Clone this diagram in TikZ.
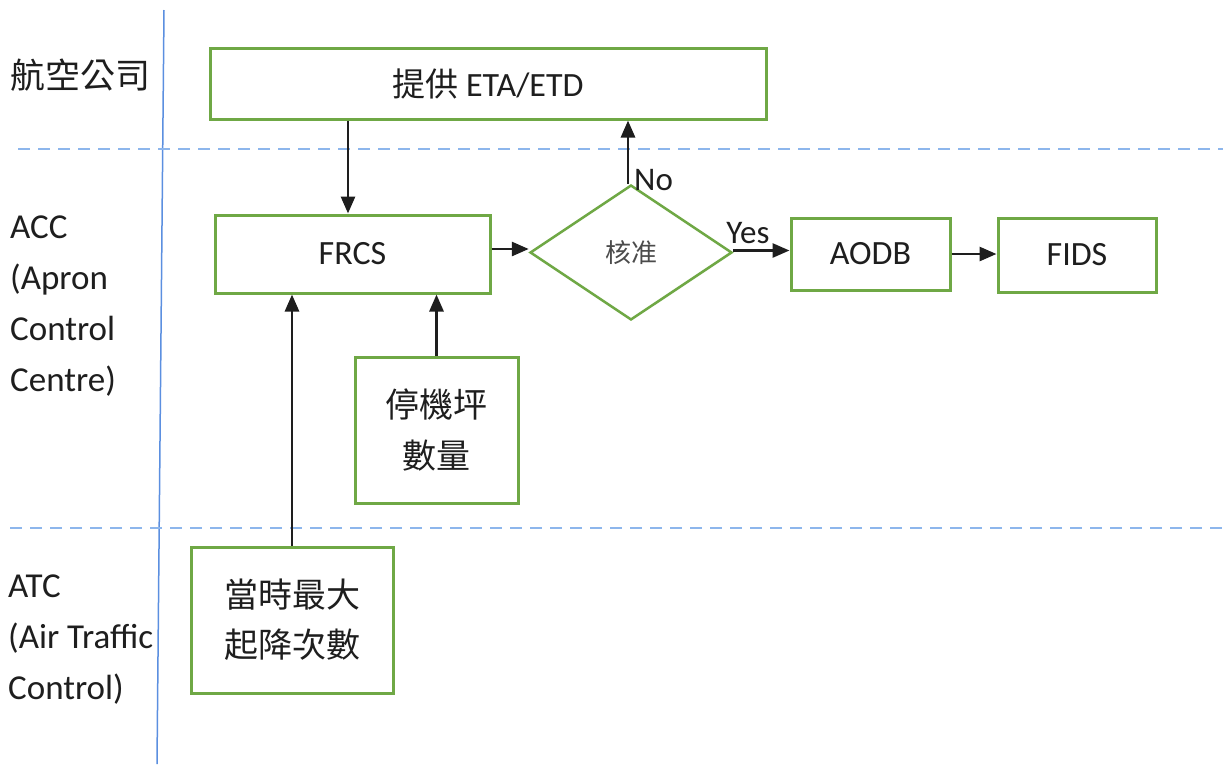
\documentclass[tikz,border=0pt]{standalone}
\usepackage{fontspec}
\setmainfont{Carlito}
\newfontfamily\cjk{Noto Sans CJK TC}
\usetikzlibrary{arrows.meta,shapes.geometric}
\definecolor{boxgreen}{HTML}{6FA845}
\definecolor{laneblue}{HTML}{5B8FE0}
\definecolor{dashblue}{HTML}{8DB6EC}
\definecolor{ink}{HTML}{1E1E1E}
\tikzset{
  big/.style={font=\fontsize{34}{40}\selectfont},
  box/.style={draw=boxgreen,line width=3pt,inner sep=0pt,text=ink,big,align=center},
  arr/.style={draw=ink,line width=2.8pt,-{Triangle[length=17pt,width=14pt]}},
  lane/.style={draw=dashblue,line width=1.5pt,dash pattern=on 12pt off 8pt},
  lbl/.style={text=ink,inner sep=0pt,align=left,anchor=west,font=\fontsize{35}{51}\selectfont},
}
\begin{document}
\begin{tikzpicture}[x=1pt,y=-1pt]
\useasboundingbox[fill=white] (0,0) rectangle (1223,764);
% lanes
\draw[draw=laneblue,line width=1.5pt] (164,10) -- (157,764);
\draw[lane] (18,149) -- (1223,149);
\draw[lane] (10,528) -- (1223,528);
% lane labels
\node[lbl,font=\fontsize{35}{40}\selectfont] (l1) at (10,75) {\cjk 航空公司};
\node[lbl] (l2) at (10,306) {ACC\\(Apron\\Control\\Centre)};
\node[lbl] (l3) at (8,640) {ATC\\(Air Traffic\\Control)};
% boxes
\node[box,minimum width=556pt,minimum height=71pt] (eta) at (488,83.5) {{\cjk\fontsize{33}{40}\selectfont 提供} ETA/ETD};
\node[box,minimum width=275pt,minimum height=78pt] (frcs) at (352.5,254) {FRCS};
\node[draw=boxgreen,line width=2.5pt,shape=diamond,aspect=1.5,minimum width=202pt,minimum height=135pt,inner sep=0pt,text=ink!80,font=\cjk\fontsize{26}{30}\selectfont] (chk) at (631,252.5) {核准};
\node[box,minimum width=159pt,minimum height=72pt] (aodb) at (870.5,254) {AODB};
\node[box,minimum width=158pt,minimum height=74pt] (fids) at (1077,255) {FIDS};
\node[box,minimum width=163pt,minimum height=146pt,font=\cjk\fontsize{34}{51}\selectfont] (park) at (436.5,430) {停機坪\\數量};
\node[box,minimum width=202pt,minimum height=146pt,font=\cjk\fontsize{34}{50}\selectfont] (atc) at (292,620) {當時最大\\起降次數};
% connectors
\draw[arr] ([xshift=-4.5pt]frcs.north |- eta.south) -- ([xshift=-4.5pt]frcs.north);
\draw[arr] ([yshift=5pt]frcs.east) -- ([yshift=5pt]frcs.east -| chk.west);
\draw[arr] ([xshift=-3pt]chk.north) -- ([xshift=-3pt]chk.north |- eta.south);
\draw[arr] ([yshift=2pt]chk.east) -- ([yshift=2pt]chk.east -| aodb.west);
\draw[arr] (aodb.east) -- (aodb.east -| fids.west);
\draw[arr] (park.north) -- (park.north |- frcs.south);
\draw[arr] (atc.north) -- (atc.north |- frcs.south);
% labels
\node[text=ink,inner sep=0pt,anchor=base west,font=\fontsize{33}{38}\selectfont] (no) at ([xshift=3pt,yshift=-7pt]chk.north) {No};
\node[text=ink,inner sep=0pt,anchor=base west,font=\fontsize{33}{38}\selectfont] (yes) at ([xshift=-7pt,yshift=9pt]chk.east) {Yes};
\end{tikzpicture}
\end{document}
